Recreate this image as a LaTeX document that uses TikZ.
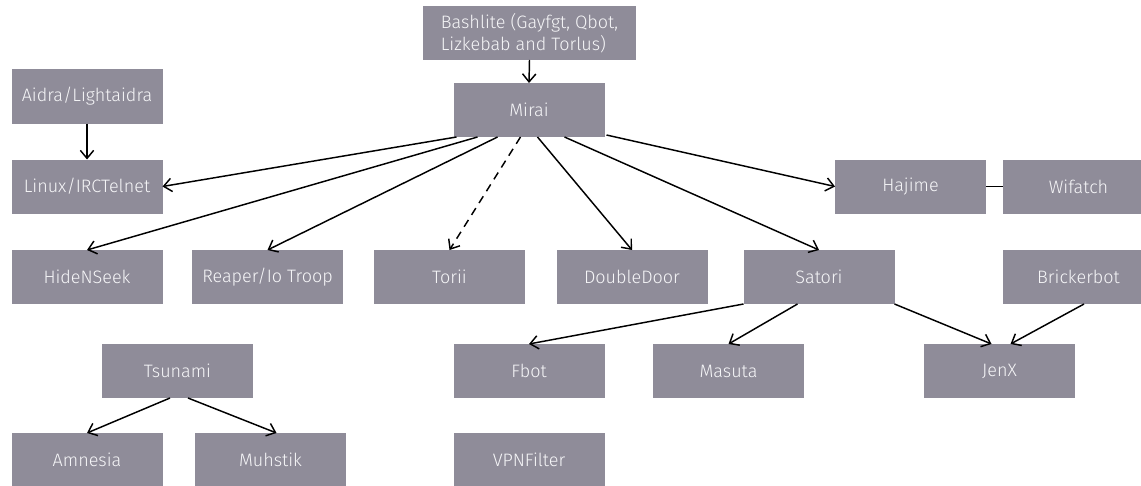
\documentclass[tikz,border=0pt]{standalone}
\usepackage{fontspec}
\setmainfont{Fira Sans Light}
\usetikzlibrary{arrows.meta,calc}
\definecolor{boxgray}{RGB}{143,140,153}
\definecolor{boxtext}{RGB}{246,246,248}
\begin{document}
\begin{tikzpicture}[x=0.75pt,y=-0.75pt,
  malware/.style={fill=boxgray, text=boxtext, minimum width=113.25pt,
    minimum height=40.5pt, inner sep=0pt, outer sep=0pt,
    font=\fontsize{13.5pt}{16.8pt}\selectfont},
  link/.style={draw=black, line width=1.1pt,
    -{Straight Barb[length=6pt,width=10pt,line width=1.1pt]}},
  maybe/.style={link, dash pattern=on 6pt off 4.5pt}]
\useasboundingbox (0,0) rectangle (1141,485);
\clip (0,0) rectangle (1141,485);

% top of the family tree
\node[malware, minimum width=159.75pt, align=left] (bash) at (529.5,33)
  {Bashlite (Gayfgt, Qbot,\\Lizkebab and Torlus)};
\node[malware] (mirai) at (529,110) {Mirai};
\node[malware] (aidra) at (87,96.5) {Aidra/Lightaidra};

% row 1
\node[malware] (linux) at (87,186.5) {Linux/IRCTelnet};
\node[malware] (hajime) at (910.5,186.5) {Hajime};
\node[malware] (wifatch) at (1078.5,186.5) {Wifatch};

% row 2
\node[malware] (hide) at (87,277) {HideNSeek};
\node[malware] (reaper) at (267.5,277) {Reaper/Io Troop};
\node[malware] (torii) at (449.5,277) {Torii};
\node[malware] (door) at (632,277) {DoubleDoor};
\node[malware] (satori) at (819,277) {Satori};
\node[malware] (bricker) at (1078.5,277) {Brickerbot};

% row 3
\node[malware] (tsunami) at (177.5,371) {Tsunami};
\node[malware] (fbot) at (529,371) {Fbot};
\node[malware] (masuta) at (728.5,371) {Masuta};
\node[malware] (jenx) at (999.5,371) {JenX};

% row 4
\node[malware] (amnesia) at (87,460) {Amnesia};
\node[malware] (muhstik) at (270.5,460) {Muhstik};
\node[malware] (vpn) at (529,460) {VPNFilter};

% lineage
\draw[link] (bash.south) -- (mirai.north);
\draw[link] (aidra.south) -- (linux.north);
\draw[link] ($(mirai.south west)+(3,0)$) -- (linux.east);
\draw[link] ($(mirai.south west)+(24,0)$) -- (hide.north);
\draw[link] ($(mirai.south west)+(44,0)$) -- (reaper.north);
\draw[maybe] ($(mirai.south west)+(67,0)$) -- (torii.north);
\draw[link] ($(mirai.south west)+(84,0)$) -- (door.north);
\draw[link] ($(mirai.south west)+(111,0)$) -- (satori.north);
\draw[link] ($(mirai.south east)+(2,-2)$) -- (hajime.west);
\draw[line width=1.1pt] (hajime.east) -- (wifatch.west);
\draw[link] (satori.south west) -- (fbot.north);
\draw[link] ($(satori.south west)+(54,0)$) -- (masuta.north);
\draw[link] (satori.south east) -- ($(jenx.north)+(-8,0)$);
\draw[link] ($(bricker.south west)+(81,0)$) -- ($(jenx.north)+(11,0)$);
\draw[link] ($(tsunami.south)+(-7.5,0)$) -- (amnesia.north);
\draw[link] ($(tsunami.south)+(10.5,0)$) -- ($(muhstik.north)+(6,0)$);
\end{tikzpicture}
\end{document}
